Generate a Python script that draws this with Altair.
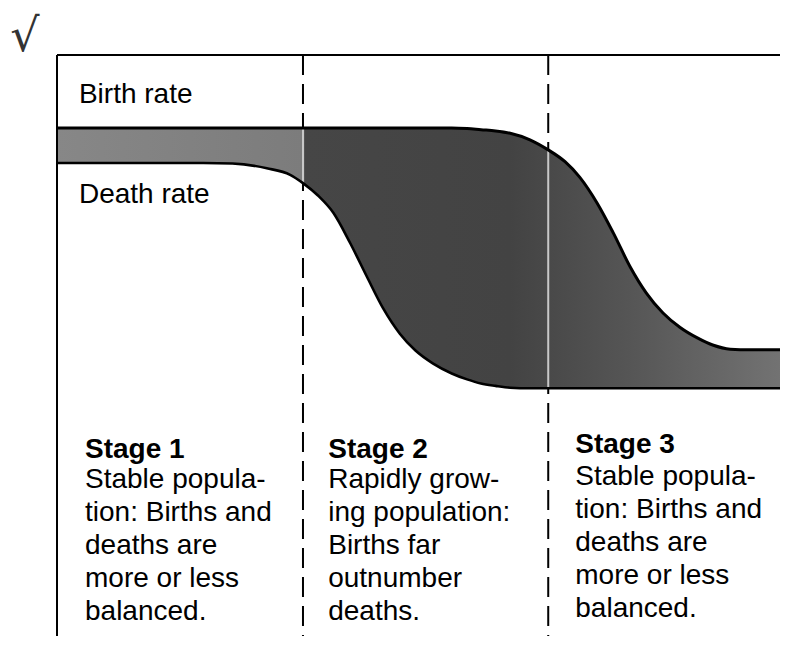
import altair as alt
import pandas as pd

# ---- data (x: time 0-100 across the frame, y: rate 0-100 frame height)
time_x = [0, 10, 20, 24, 28.7, 31.9, 33.65, 35.7, 37.8, 40.1, 42.4, 44.6, 46.9, 49, 51.4, 54,
          56.1, 58, 60, 62, 64.7, 67.2, 69.5, 71.5, 73.9, 76.1, 78.4, 80.6, 82.9, 85.2,
          87.6, 89.7, 92.1, 94.8, 100]
birth_rate = [87.7, 87.7, 87.7, 87.7, 87.7, 87.7, 87.7, 87.7, 87.7, 87.7, 87.7, 87.7, 87.7, 87.7,
              87.7, 87.7, 87.6, 87.4, 87.2, 86.8, 85.7, 84.0, 82.0, 79.4, 75.0, 70.0, 64.3,
              59.9, 56.5, 54.1, 52.3, 51.1, 50.4, 50.3, 50.3]
death_rate = [81.8, 81.8, 81.8, 81.7, 80.9, 79.8, 78.4, 76.3, 73.4, 68.3, 62.6, 57.3, 53.0, 50.2,
              48.0, 46.3, 45.3, 44.6, 44.2, 43.9, 43.8, 43.8, 43.8, 43.8, 43.8, 43.8, 43.8,
              43.8, 43.8, 43.8, 43.8, 43.8, 43.8, 43.8, 43.8]

stage_bounds = [33.65, 67.2]
bound_birth = [87.7, 84.0]
bound_death = [78.4, 43.8]

stage_titles = ["Stage 1", "Stage 2", "Stage 3"]
stage_lines = [
    ["Stable popula-", "tion: Births and", "deaths are", "more or less", "balanced."],
    ["Rapidly grow-", "ing population:", "Births far", "outnumber", "deaths."],
    ["Stable popula-", "tion: Births and", "deaths are", "more or less", "balanced."],
]
curve_labels = ["Birth rate", "Death rate"]

# ---- layout (positions in the chart's own units)
stage_x = [3.83, 37.1, 70.9]
stage_title_y = [32.0, 32.0, 32.9]
stage_body_y = [27.0, 27.0, 27.5]
label_x = [3.0, 3.0]
label_y = [91.9, 75.0]

FONT = "Liberation Sans"
FS = 28

xs = alt.Scale(domain=[0, 100], range=[0, 731])
ys = alt.Scale(domain=[0, 100], range=[593, 0])

curves = pd.DataFrame({"t": time_x, "birth": birth_rate, "death": death_rate})

grad = alt.LinearGradient(
    gradient="linear", x1=0, x2=1, y1=0, y2=0,
    stops=[
        alt.GradientStop(color="#878787", offset=0),
        alt.GradientStop(color="#7c7c7c", offset=0.335),
        alt.GradientStop(color="#464646", offset=0.34),
        alt.GradientStop(color="#434343", offset=0.62),
        alt.GradientStop(color="#555555", offset=0.78),
        alt.GradientStop(color="#747474", offset=1),
    ],
)

X = lambda f: alt.X(f, scale=xs, axis=None)
Y = lambda f: alt.Y(f, scale=ys, axis=None)

dash_df = pd.DataFrame({"t": stage_bounds, "top": [100, 100], "bot": [0, 0]})
dashed = alt.Chart(dash_df).mark_rule(color="black", strokeWidth=2, strokeDash=[20, 9]).encode(
    x=X("t:Q"), y=Y("top:Q"), y2="bot:Q",
)

band = alt.Chart(curves).mark_area(color=grad, interpolate="monotone").encode(
    x=X("t:Q"), y=Y("birth:Q"), y2="death:Q",
)

bound_df = pd.DataFrame({"t": stage_bounds, "b": bound_birth, "d": bound_death})
bound_lines = alt.Chart(bound_df).mark_rule(color="#c8c8c8", strokeWidth=2).encode(
    x=X("t:Q"), y=Y("b:Q"), y2="d:Q",
)

birth_line = alt.Chart(curves).mark_line(color="black", strokeWidth=3, interpolate="monotone").encode(
    x=X("t:Q"), y=Y("birth:Q"),
)
death_line = alt.Chart(curves).mark_line(color="black", strokeWidth=2.6, interpolate="monotone").encode(
    x=X("t:Q"), y=Y("death:Q"),
)

frame_df = pd.DataFrame({"x1": [0, 0], "x2": [100, 0], "y1": [100, 100], "y2": [100, 0]})
frame = alt.Chart(frame_df).mark_rule(color="black", strokeWidth=2).encode(
    x=X("x1:Q"), x2="x2:Q", y=Y("y1:Q"), y2="y2:Q",
)

lab_df = pd.DataFrame({"label": curve_labels, "x": label_x, "y": label_y})
labels = alt.Chart(lab_df).mark_text(
    font=FONT, fontSize=FS, align="left", baseline="alphabetic", color="black"
).encode(x=X("x:Q"), y=Y("y:Q"), text="label:N")

title_df = pd.DataFrame({"label": stage_titles, "x": stage_x, "y": stage_title_y})
titles = alt.Chart(title_df).mark_text(
    font=FONT, fontSize=FS, fontWeight="bold", align="left", baseline="alphabetic", color="black"
).encode(x=X("x:Q"), y=Y("y:Q"), text="label:N")

body_rows = []
for i in range(3):
    for j, line in enumerate(stage_lines[i]):
        body_rows.append({"x": stage_x[i], "row": j, "y0": stage_body_y[i], "label": line})
body_df = pd.DataFrame(body_rows)
body = alt.Chart(body_df).transform_calculate(
    y="datum.y0 - datum.row * 33 / 5.93"
).mark_text(
    font=FONT, fontSize=FS, align="left", baseline="alphabetic", color="black"
).encode(x=X("x:Q"), y=Y("y:Q"), text="label:N")

check_df = pd.DataFrame({"x": [-6.4], "y": [100.6], "label": ["√"]})
check = alt.Chart(check_df).mark_text(
    font="DejaVu Sans", fontSize=46, align="left", baseline="alphabetic", color="#333333",
).encode(x=X("x:Q"), y=Y("y:Q"), text="label:N")

chart = alt.layer(
    dashed, band, bound_lines, birth_line, death_line, frame,
    labels, titles, body, check,
).properties(
    width=723, height=581,
    padding={"left": 49, "top": 47, "right": 0, "bottom": 0},
    autosize="none",
).configure_view(stroke=None)

chart.save("out.html", embed_options={"renderer": "svg", "actions": False})
